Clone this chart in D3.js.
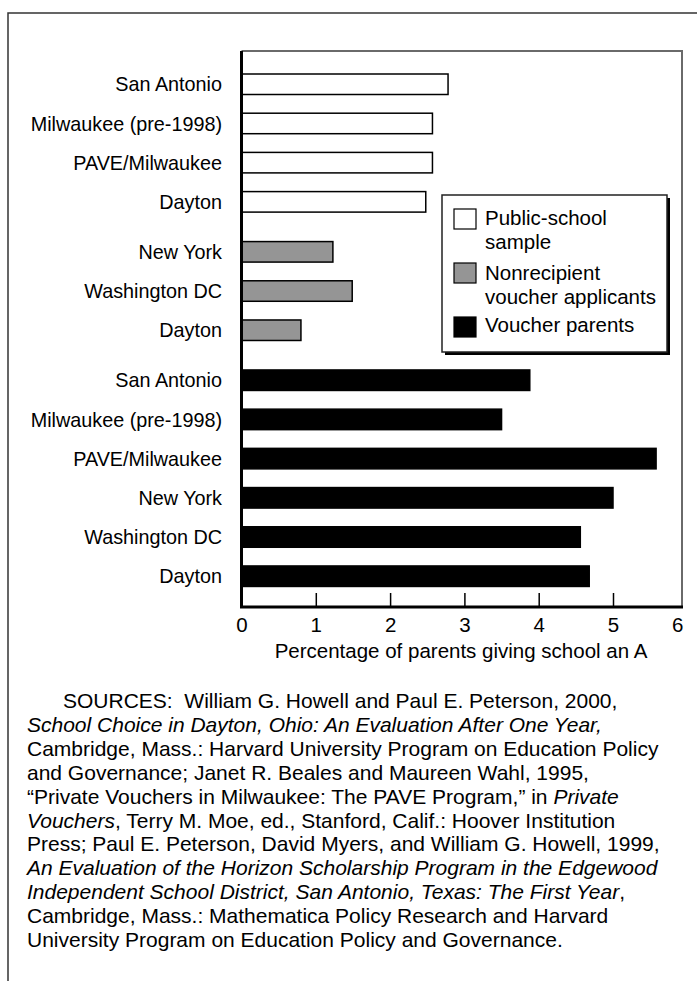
<!DOCTYPE html>
<html>
<head>
<meta charset="utf-8">
<script src="https://cdn.jsdelivr.net/npm/d3@7"></script>
<style>
  html, body {
    margin: 0;
    padding: 0;
    background: #fff;
  }
  svg {
    display: block;
    font-family: "Liberation Sans", Arial, Helvetica, sans-serif;
  }
  .notes text {
    white-space: pre;
  }
</style>
</head>
<body>
<svg id="chart" width="697" height="981"></svg>
<script>
// the three groups of bars, top to bottom
const publicCities = ['San Antonio', 'Milwaukee (pre-1998)', 'PAVE/Milwaukee', 'Dayton'];
const publicValues = [2.78, 2.57, 2.57, 2.48];
const nonrecipientCities = ['New York', 'Washington DC', 'Dayton'];
const nonrecipientValues = [1.23, 1.49, 0.80];
const voucherCities = ['San Antonio', 'Milwaukee (pre-1998)', 'PAVE/Milwaukee', 'New York', 'Washington DC', 'Dayton'];
const voucherValues = [3.88, 3.50, 5.58, 5.00, 4.56, 4.68];

const xTicks = [0, 1, 2, 3, 4, 5, 6];
const xTitle = 'Percentage of parents giving school an A';

const legendLabels = [['Public-school', 'sample'], ['Nonrecipient', 'voucher applicants'], ['Voucher parents']];

// each line is a list of [text, italic] pieces
const sourceLines = [
  [['SOURCES:  William G. Howell and Paul E. Peterson, 2000,', false]],
  [['School Choice in Dayton, Ohio: An Evaluation After One Year,', true]],
  [['Cambridge, Mass.: Harvard University Program on Education Policy', false]],
  [['and Governance; Janet R. Beales and Maureen Wahl, 1995,', false]],
  [['\u201cPrivate Vouchers in Milwaukee: The PAVE Program,\u201d in ', false], ['Private', true]],
  [['Vouchers', true], [', Terry M. Moe, ed., Stanford, Calif.: Hoover Institution', false]],
  [['Press; Paul E. Peterson, David Myers, and William G. Howell, 1999,', false]],
  [['An Evaluation of the Horizon Scholarship Program in the Edgewood', true]],
  [['Independent School District, San Antonio, Texas: The First Year', true], [',', false]],
  [['Cambridge, Mass.: Mathematica Policy Research and Harvard', false]],
  [['University Program on Education Policy and Governance.', false]],
];

const fills = ['#ffffff', '#959595', '#000000'];
const groupGap = 0.275;

// flatten groups into rows
const groups = [
  {cities: publicCities, values: publicValues},
  {cities: nonrecipientCities, values: nonrecipientValues},
  {cities: voucherCities, values: voucherValues},
];
const rows = [];
groups.forEach((g, gi) => {
  g.cities.forEach((city, i) => {
    rows.push({city, value: g.values[i], group: gi, slot: rows.length + gi * groupGap});
  });
});

const svg = d3.select('#chart');
const plot = {left: 241.5, top: 51, right: 682, bottom: 607};

const x = d3.scaleLinear()
  .domain([0, 6])
  .range([plot.left, plot.left + 6 * 74.3])
  ;
const lastSlot = rows[rows.length - 1].slot;
const y = d3.scaleLinear()
  .domain([0, lastSlot])
  .range([74, 74 + lastSlot * 39.2])
  ;
const barH = 20.5;

// outer frame (top and left only are visible)
svg.append('path')
  .attr('d', 'M8,981 V13 H697')
  .attr('fill', 'none')
  .attr('stroke', '#333')
  .attr('stroke-width', 1.5)
  ;

// plot border: grey top and right
svg.append('path')
  .attr('d', `M${plot.left},${plot.top} H${plot.right} V${plot.bottom}`)
  .attr('fill', 'none')
  .attr('stroke', '#6a6a6a')
  .attr('stroke-width', 2)
  ;

// bars
svg.append('g')
  .selectAll('rect')
  .data(rows)
  .join('rect')
    .attr('x', x(0))
    .attr('y', d => y(d.slot))
    .attr('width', d => x(d.value) - x(0))
    .attr('height', barH)
    .attr('fill', d => fills[d.group])
    .attr('stroke', '#000')
    .attr('stroke-width', 1.5)
  ;

// category labels
svg.append('g')
  .attr('font-size', 19.8)
  .attr('text-anchor', 'end')
  .selectAll('text')
  .data(rows)
  .join('text')
    .attr('x', 222)
    .attr('y', d => y(d.slot) + barH / 2)
    .attr('dy', '0.36em')
    .text(d => d.city)
  ;

// x axis
const xAxis = svg.append('g')
  .attr('transform', `translate(0,${plot.bottom})`)
  .call(d3.axisBottom(x).tickValues(xTicks).tickSize(0).tickPadding(0).tickFormat(d3.format('d')))
  ;
xAxis.select('.domain').remove();
xAxis.selectAll('text')
  .attr('font-family', null)
  .attr('font-size', 20.5)
  .attr('fill', '#000')
  .attr('y', 25)
  .attr('dy', 0)
  .attr('dx', d => d === 6 ? -10 : 0)
  ;
xAxis.selectAll('.tick')
  .filter(d => d > 0 && d < 6)
  .append('line')
    .attr('y1', -14)
    .attr('y2', 0)
    .attr('stroke', '#000')
    .attr('stroke-width', 1.5)
  ;

// left and bottom axis lines, thick black
svg.append('path')
  .attr('d', `M${plot.left},${plot.top} V${plot.bottom} H${plot.right + 1}`)
  .attr('fill', 'none')
  .attr('stroke', '#000')
  .attr('stroke-width', 3)
  ;

svg.append('text')
  .attr('x', 461)
  .attr('y', 658)
  .attr('font-size', 20.5)
  .attr('text-anchor', 'middle')
  .text(xTitle)
  ;

// legend with drop shadow
const legend = svg.append('g');
legend.append('rect')
  .attr('x', 445).attr('y', 198)
  .attr('width', 225).attr('height', 157)
  .attr('fill', '#000')
  ;
legend.append('rect')
  .attr('x', 442).attr('y', 195)
  .attr('width', 225).attr('height', 157)
  .attr('fill', '#fff')
  .attr('stroke', '#222')
  .attr('stroke-width', 1.5)
  ;
const swatchY = [209, 263, 317];
const textY = [225, 280, 332];
legend.selectAll('rect.swatch')
  .data(legendLabels)
  .join('rect')
    .attr('class', 'swatch')
    .attr('x', 454)
    .attr('y', (d, i) => swatchY[i])
    .attr('width', 22)
    .attr('height', 20)
    .attr('fill', (d, i) => fills[i])
    .attr('stroke', '#000')
    .attr('stroke-width', 1.2)
  ;
legend.selectAll('text')
  .data(legendLabels)
  .join('text')
    .attr('x', 485)
    .attr('y', (d, i) => textY[i])
    .attr('font-size', 20.5)
    .selectAll('tspan')
    .data(d => d)
    .join('tspan')
      .attr('x', 485)
      .attr('dy', (d, i) => i ? 23.5 : 0)
      .text(d => d)
  ;

// sources note
const notes = svg.append('g')
  .attr('class', 'notes')
  .attr('font-size', 21)
  ;
notes.selectAll('text')
  .data(sourceLines)
  .join('text')
    .attr('x', (d, i) => i ? 27 : 63)
    .attr('y', (d, i) => 708 + i * 23.9)
    .selectAll('tspan')
    .data(d => d)
    .join('tspan')
      .attr('font-style', d => d[1] ? 'italic' : null)
      .text(d => d[0])
  ;
</script>
</body>
</html>
